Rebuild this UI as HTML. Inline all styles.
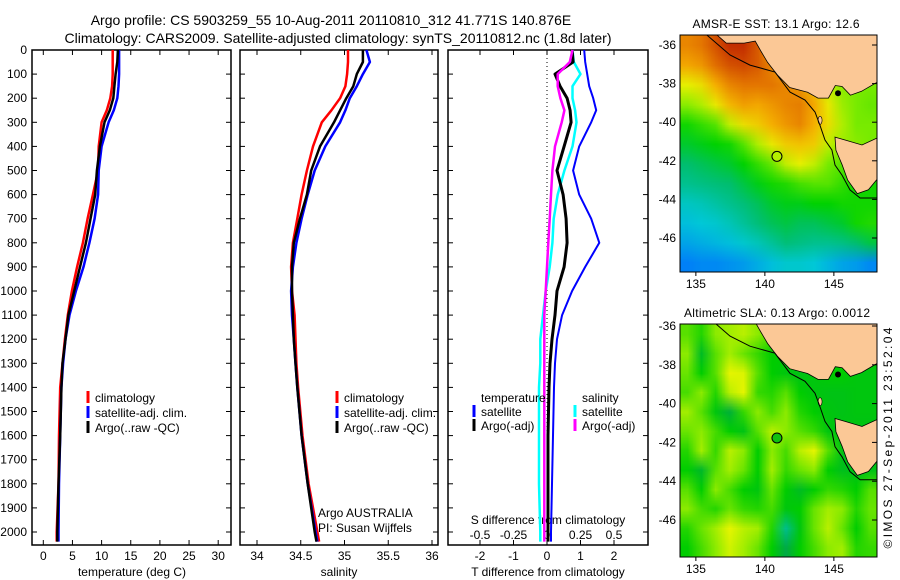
<!DOCTYPE html>
<html><head><meta charset="utf-8">
<style>
html,body{margin:0;padding:0;background:#fff;}
#wrap{position:relative;width:900px;height:580px;overflow:hidden;font-family:"Liberation Sans",sans-serif;}
canvas{position:absolute;}
svg{position:absolute;left:0;top:0;}
text{font-family:"Liberation Sans",sans-serif;fill:#000;}
</style></head>
<body>
<div id="wrap">
<canvas id="sstCanvas" width="14" height="12" style="left:680px;top:35px;width:197px;height:237px;"></canvas>
<canvas id="slaCanvas" width="14" height="12" style="left:680px;top:324px;width:197px;height:233px;"></canvas>
<svg id="svg" width="900" height="580" xmlns="http://www.w3.org/2000/svg">
 <text x="331" y="25" text-anchor="middle" font-size="14">Argo profile: CS 5903259_55 10-Aug-2011 20110810_312 41.771S 140.876E</text>
 <text x="338" y="43" text-anchor="middle" font-size="14" textLength="547">Climatology: CARS2009. Satellite-adjusted climatology: synTS_20110812.nc (1.8d later)</text>
 <text x="776" y="28" text-anchor="middle" font-size="12" textLength="167">AMSR-E SST: 13.1 Argo: 12.6</text>
 <text x="777" y="317" text-anchor="middle" font-size="12" textLength="186">Altimetric SLA: 0.13 Argo: 0.0012</text>
 <text transform="translate(892,438) rotate(-90)" text-anchor="middle" font-size="12" textLength="221">©IMOS 27-Sep-2011 23:52:04</text>
 <g id="g"></g>
</svg>
</div>
<script>
// ---- profile data ----
const depths = [0,50,100,150,200,250,300,400,500,600,700,800,900,1000,1100,1200,1300,1400,1600,1800,2000,2040];
const tempClim = [11.9,11.9,11.9,11.8,11.5,10.9,10.0,9.5,9.4,8.5,7.6,6.8,5.8,4.9,4.2,3.7,3.3,2.9,2.7,2.6,2.3,2.3];
const tempSat  = [13.0,13.0,13.0,12.9,12.7,12.1,11.2,10.0,9.5,9.4,8.8,7.9,6.9,5.6,4.5,3.8,3.4,3.1,2.9,2.7,2.6,2.6];
const tempArgo = [12.8,12.7,12.4,12.2,12.0,11.4,10.5,9.7,9.2,8.9,8.1,7.3,6.3,5.3,4.3,3.8,3.3,3.1,2.9,2.6,2.4,2.4];
const salClim = [35.04,35.04,35.03,35.01,34.95,34.85,34.74,34.64,34.57,34.51,34.46,34.41,34.39,34.40,34.43,34.44,34.45,34.47,34.52,34.59,34.69,34.71];
const salSat  = [35.25,35.29,35.21,35.14,35.06,35.01,34.95,34.78,34.66,34.58,34.51,34.45,34.41,34.39,34.40,34.42,34.44,34.46,34.51,34.58,34.67,34.69];
const salArgo = [35.21,35.21,35.14,35.10,35.02,34.95,34.88,34.72,34.62,34.57,34.49,34.42,34.40,34.40,34.41,34.42,34.44,34.46,34.51,34.58,34.66,34.68];
const dTsat  = [1.11,1.14,1.20,1.26,1.38,1.47,1.32,0.96,0.78,0.96,1.32,1.56,1.14,0.75,0.45,0.30,0.24,0.21,0.18,0.15,0.12,0.12];
const dTargo = [0.75,0.78,0.24,0.39,0.60,0.69,0.72,0.51,0.30,0.48,0.57,0.60,0.51,0.30,0.24,0.15,0.09,0.06,0.03,0.03,0.03,0.03];
const dSsat  = [0.19,0.20,0.25,0.19,0.19,0.21,0.22,0.19,0.13,0.08,0.05,0.04,0.02,-0.01,-0.03,-0.05,-0.05,-0.06,-0.06,-0.06,-0.05,-0.05];
const dSargo = [0.19,0.17,0.08,0.08,0.10,0.13,0.11,0.06,0.04,0.03,0.02,0.01,0.00,-0.01,-0.02,-0.02,-0.02,-0.02,-0.02,-0.02,-0.02,-0.02];
const depthTicks = [0,100,200,300,400,500,600,700,800,900,1000,1100,1200,1300,1400,1500,1600,1700,1800,1900,2000];
const tempTicks = [0,5,10,15,20,25,30];
const salTicks = [34,34.5,35,35.5,36];
const dTTicks = [-2,-1,0,1,2];
const dSTicks = [-0.5,-0.25,0,0.25,0.5];
const dSTickLabels = ["-0.5","-0.25","0","0.25","0.5"];
// ---- map data ----
const sstGrid = [
[15.0,15.2,15.6,16.0,16.0,15.5,14.5,14,14,14,14,14,14,14],
[14.6,14.8,15.3,15.6,15.7,15.5,15.0,14.5,14,14,14,14,14,14],
[13.8,14.0,14.5,15.0,15.2,15.2,15.2,15.0,14.8,14.3,13.6,13.3,13.2,13.2],
[13.3,13.5,13.9,14.4,14.7,14.6,14.8,15.0,15.1,14.6,13.9,13.4,13.2,13.1],
[12.6,12.8,13.0,13.6,14.0,14.2,14.5,14.8,15.0,14.5,14.0,13.5,13.2,13.2],
[12.3,12.4,12.5,12.6,13.0,13.5,13.9,14.2,14.3,14.2,13.6,13.4,13.3,13.2],
[12.0,12.1,12.2,12.3,12.5,12.8,13.1,13.6,13.8,13.6,13.2,13.0,13.0,13.0],
[11.7,11.8,11.9,12.0,12.2,12.4,12.6,12.7,12.9,13.0,13.0,12.8,12.6,12.6],
[11.2,11.3,11.5,11.7,11.9,12.1,12.3,12.4,12.4,12.5,12.5,12.6,12.6,12.6],
[10.9,11.0,11.1,11.3,11.6,11.9,12.1,12.2,12.1,12.1,12.2,12.3,12.6,12.7],
[10.6,10.7,10.8,10.9,11.1,11.3,11.6,11.9,11.8,11.7,11.7,11.8,12.0,12.2],
[10.2,10.3,10.3,10.4,10.5,10.7,10.9,11.1,11.1,11.0,10.8,10.6,10.5,10.3]];
const slaGrid = [
[0.05,0.02,0.08,0.10,0.12,0.08,0.05,0,0,0,0,0,0,0],
[0.08,-0.05,0.05,0.10,0.06,0.03,0.0,0.0,-0.02,0,0,0,0,0],
[0.06,0.0,0.05,0.17,0.15,0.05,0.0,-0.02,-0.03,-0.02,0,0,-0.02,-0.02],
[0.04,0.08,0.02,0.12,0.16,0.03,0.02,0.05,0.0,-0.02,-0.03,-0.03,-0.02,-0.02],
[0.10,0.05,-0.02,-0.08,0.03,0.08,0.04,0.08,0.02,0.0,-0.02,-0.03,-0.02,-0.02],
[0.06,0.08,0.04,0.0,-0.03,0.05,0.12,0.08,0.05,0.03,-0.02,-0.02,-0.03,-0.03],
[0.02,0.10,0.03,0.12,0.08,0.0,0.08,0.04,0.12,0.18,0.05,-0.03,-0.03,-0.03],
[0.0,-0.06,0.05,0.10,0.06,0.0,0.10,0.03,0.06,0.08,0.0,-0.04,-0.03,-0.03],
[0.05,0.0,0.08,0.04,0.0,-0.02,0.06,0.0,-0.05,0.0,0.03,0.02,0.0,0.05],
[0.08,0.04,0.02,0.06,0.03,0.02,0.04,-0.02,0.0,0.06,0.10,0.08,0.02,0.06],
[0.02,0.06,0.10,0.16,0.12,0.10,0.02,-0.15,-0.02,0.06,0.12,0.06,0.0,0.05],
[0.0,0.04,0.08,0.14,0.10,0.06,0.0,-0.10,0.0,0.04,0.08,0.10,0.02,0.03]];
const mainland = [[136.4,-35.4],[137.2,-35.9],[138.5,-35.9],[139.3,-35.8],[139.7,-36.3],[140.2,-36.9],[140.9,-37.55],[141.8,-38.2],[143.1,-38.45],[143.85,-38.75],[144.6,-38.75],[145.1,-38.1],[145.6,-38.15],[146.2,-38.6],[147.0,-38.4],[148.2,-37.9],[148.2,-35.4]];
const tasmania = [[145.08,-40.77],[145.81,-40.92],[147.04,-41.18],[148.2,-40.8],[148.2,-42.9],[147.5,-43.5],[146.7,-43.7],[146.0,-43.0],[145.6,-42.2],[145.15,-41.45]];
const shelf = [[135.66,-35.4],[137.47,-36.52],[138.92,-37.04],[140.73,-37.4],[141.82,-38.44],[142.91,-38.85],[143.63,-39.47],[143.99,-40.15],[144.36,-40.92],[144.86,-41.44],[145.08,-42.22],[145.59,-42.74],[146.17,-43.51],[146.9,-43.93],[148.2,-43.93]];
const argoLon = 140.876, argoLat = -41.771;
const latTicks = [-36,-38,-40,-42,-44,-46];
const lonTicks = [135,140,145];

const NS="http://www.w3.org/2000/svg";
const g=document.getElementById('g');
function el(tag,attrs,parent){const e=document.createElementNS(NS,tag);for(const k in attrs)e.setAttribute(k,attrs[k]);(parent||g).appendChild(e);return e;}
function txt(x,y,s,size,anchor){const t=el('text',{x:x,y:y,'font-size':size||12,'text-anchor':anchor||'middle'});t.textContent=s;return t;}

const yTop=50,yBot=545;
const yD=d=>yTop+d*0.241;
const xT=t=>43.3+5.83*t;
const xS=s=>257+87.5*(s-34);
const xdT=t=>547+33.5*t;
const xdS=s=>547+134*s;

const panels=[{x0:32,x1:231,name:'temperature-panel'},{x0:240,x1:438,name:'salinity-panel'},{x0:448,x1:648,name:'difference-panel'}];
panels.forEach((p,i)=>{
  const r=el('rect',{x:p.x0,y:yTop,width:p.x1-p.x0,height:yBot-yTop,fill:'none',stroke:'#000','stroke-width':1.5});
  
  
  depthTicks.forEach(d=>{
    el('line',{x1:p.x0,x2:p.x0+5,y1:yD(d),y2:yD(d),stroke:'#000'});
    el('line',{x1:p.x1,x2:p.x1-5,y1:yD(d),y2:yD(d),stroke:'#000'});
  });
});
depthTicks.forEach(d=>{const t=txt(27,yD(d)+4,String(d),12,'end');
  
  });
function xticks(vals,fx,labels,ly,ticksTop){
  vals.forEach((v,i)=>{const x=fx(v);
    el('line',{x1:x,x2:x,y1:yBot,y2:yBot-5,stroke:'#000'});
    if(ticksTop) el('line',{x1:x,x2:x,y1:yTop,y2:yTop+5,stroke:'#000'});
    const t=txt(x,ly,labels?labels[i]:String(v),12);
    
    
  });
}
xticks(tempTicks,xT,null,560,true);
xticks(salTicks,xS,null,560,true);
xticks(dTTicks,xdT,null,560,true);
dSTicks.forEach((v,i)=>{const x=xdS(v);
  el('line',{x1:x,x2:x,y1:yBot,y2:yBot-4,stroke:'#000'});
  const t=txt(x,539,dSTickLabels[i],12);
  
  });
let t;
t=txt(132,576,'temperature (deg C)',12);
t=txt(339,576,'salinity',12);
t=txt(548,576,'T difference from climatology',12);
t=txt(548,524,'S difference from climatology',12);
el('line',{x1:xdT(0),x2:xdT(0),y1:yTop,y2:yBot,stroke:'#000','stroke-dasharray':'1,3'});

function line(vals,fx,color,name,w){
  const pts=depths.map((d,i)=>fx(vals[i]).toFixed(1)+','+yD(d).toFixed(1)).join(' ');
  const p=el('polyline',{points:pts,fill:'none',stroke:color,'stroke-width':w||2.5,'stroke-linejoin':'round'});
  
  
}
line(tempClim,xT,'#f00','temp-climatology-line');
line(tempSat,xT,'#00f','temp-satellite-line');
line(tempArgo,xT,'#000','temp-argo-line');
line(salClim,xS,'#f00','sal-climatology-line');
line(salSat,xS,'#00f','sal-satellite-line');
line(salArgo,xS,'#000','sal-argo-line');
line(dTsat,xdT,'#00f','t-diff-satellite-line',2);
line(dSsat,xdS,'#0ff','s-diff-satellite-line',2.5);
line(dTargo,xdT,'#000','t-diff-argo-line',3);
line(dSargo,xdS,'#f0f','s-diff-argo-line',2.5);

function legend(x,y,color,label,name){
  el('line',{x1:x,x2:x,y1:y-11,y2:y+1,stroke:color,'stroke-width':3});
  const t=txt(x+7,y,label,12,'start');
  
  
}
legend(88,402,'#f00','climatology','legend-climatology');
legend(88,417,'#00f','satellite-adj. clim.','legend-satellite');
legend(88,432,'#000','Argo(..raw -QC)','legend-argo');
legend(337,402,'#f00','climatology','legend-climatology-2');
legend(337,417,'#00f','satellite-adj. clim.','legend-satellite-2');
legend(337,432,'#000','Argo(..raw -QC)','legend-argo-2');
t=txt(481,402,'temperature',12,'start');
t=txt(582,402,'salinity',12,'start');
legend(474,416,'#00f','satellite','legend-t-satellite');
legend(474,430,'#000','Argo(-adj)','legend-t-argo');
legend(575,416,'#0ff','satellite','legend-s-satellite');
legend(575,430,'#f0f','Argo(-adj)','legend-s-argo');
t=txt(318,517,'Argo AUSTRALIA',12,'start');
t=txt(318,532,'PI: Susan Wijffels',12,'start');

// ---- maps ----
function lerpStops(stops,v){
  if(v<=stops[0][0])return stops[0][1];
  for(let i=1;i<stops.length;i++){if(v<=stops[i][0]){const a=stops[i-1],b=stops[i],f=(v-a[0])/(b[0]-a[0]);
    return a[1].map((c,k)=>Math.round(c+(b[1][k]-c)*f));}}
  return stops[stops.length-1][1];
}
const sstStops=[[10,[0,110,255]],[11,[0,200,215]],[12,[0,190,110]],[12.5,[0,210,0]],[13.2,[120,235,0]],[13.8,[230,240,0]],[14.5,[245,175,0]],[15.3,[225,110,0]],[16,[195,45,0]]];
const slaStops=[[-0.2,[0,210,210]],[-0.1,[0,170,70]],[0,[0,205,0]],[0.08,[140,235,0]],[0.16,[230,245,0]]];
function paint(id,grid,stops){
  const c=document.getElementById(id),ctx=c.getContext('2d');
  grid.forEach((row,r)=>row.forEach((v,k)=>{const col=lerpStops(stops,v);ctx.fillStyle='rgb('+col.join(',')+')';ctx.fillRect(k,r,1,1);}));
}
paint('sstCanvas',sstGrid,sstStops);
paint('slaCanvas',slaGrid,slaStops);

const maps=[{y0:35,h:237,latY:lat=>45+(-36-lat)*19.3,name:'sst-map',argoFill:'#b5f000'},
            {y0:324,h:233,latY:lat=>326+(-36-lat)*19.4,name:'sla-map',argoFill:'#10c010'}];
const lonX=lon=>680+(lon-133.85)*13.8;
maps.forEach((m,mi)=>{
  const cid='clip'+mi;
  const cp=el('clipPath',{id:cid});el('rect',{x:680,y:m.y0,width:197,height:m.h},cp);
  const grp=el('g',{'clip-path':'url(#'+cid+')'});
  const poly=pts=>pts.map(p=>lonX(p[0]).toFixed(1)+','+m.latY(p[1]).toFixed(1)).join(' ');
  let e=el('polygon',{points:poly(mainland),fill:'#fbc896',stroke:'#000','stroke-width':0.8},grp);
  
  e=el('polygon',{points:poly(tasmania),fill:'#fbc896',stroke:'#000','stroke-width':0.8},grp);
  
  el('ellipse',{cx:lonX(144.0),cy:m.latY(-39.9),rx:2,ry:4,fill:'#fbc896',stroke:'#000','stroke-width':0.6},grp);
  el('circle',{cx:lonX(145.3),cy:m.latY(-38.5),r:3,fill:'#000'},grp);
  e=el('polyline',{points:poly(shelf),fill:'none',stroke:'#000','stroke-width':1},grp);
  
  e=el('circle',{cx:lonX(argoLon),cy:m.latY(argoLat),r:5,fill:m.argoFill,stroke:'#000','stroke-width':1});
  
  e=el('rect',{x:680,y:m.y0,width:197,height:m.h,fill:'none',stroke:'#000','stroke-width':1});
  
  latTicks.forEach(l=>{const y=m.latY(l);
    el('line',{x1:877,x2:872,y1:y,y2:y,stroke:'#000'});
    const tt=txt(676,y+4,String(l),12,'end');
    });
  lonTicks.forEach(l=>{const x=lonX(l);
    el('line',{x1:x,x2:x,y1:m.y0+m.h,y2:m.y0+m.h+4,stroke:'#000'});
    const tt=txt(x,m.y0+m.h+16,String(l),12);
    });
});
</script>
</body></html>
